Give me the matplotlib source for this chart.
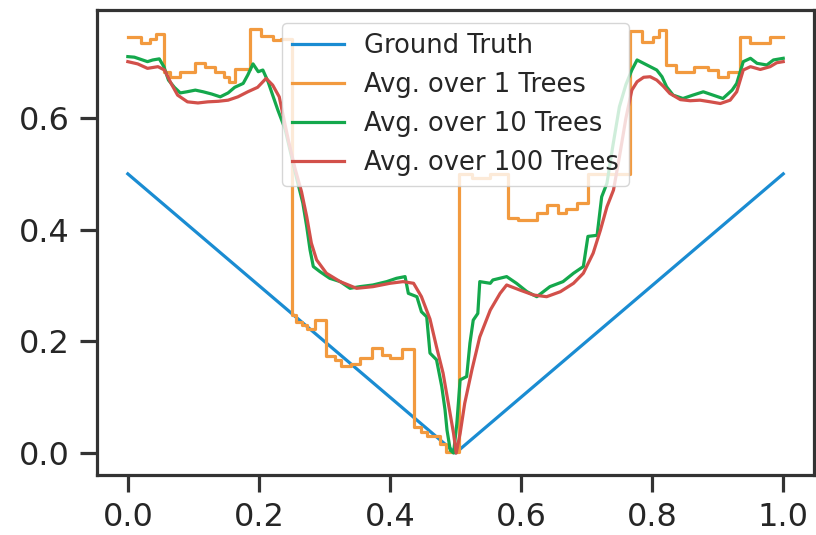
import matplotlib
matplotlib.use('Agg')
import matplotlib.pyplot as plt
import numpy as np

# ground truth |x - 0.5|
truth_x = [0.0, 0.5, 1.0]
truth_y = [0.5, 0.0, 0.5]

# single tree: step starts and values
one_tree_x = [0.0, 0.020, 0.034, 0.043, 0.055, 0.065, 0.079, 0.102, 0.118, 0.133,
              0.146, 0.155, 0.164, 0.187, 0.203, 0.221, 0.234, 0.250, 0.257, 0.265,
              0.273, 0.286, 0.303, 0.316, 0.325, 0.340, 0.355, 0.373, 0.388, 0.400,
              0.418, 0.437, 0.448, 0.456, 0.476, 0.486, 0.505, 0.525, 0.553, 0.580,
              0.595, 0.625, 0.640, 0.656, 0.668, 0.686, 0.702, 0.766, 0.784, 0.802,
              0.811, 0.821, 0.836, 0.864, 0.885, 0.900, 0.915, 0.934, 0.950, 0.980,
              1.0]
one_tree_y = [0.746, 0.735, 0.741, 0.750, 0.683, 0.673, 0.683, 0.699, 0.692, 0.683,
              0.673, 0.665, 0.688, 0.759, 0.747, 0.739, 0.742, 0.248, 0.235, 0.229,
              0.222, 0.239, 0.174, 0.167, 0.156, 0.159, 0.171, 0.188, 0.176, 0.170,
              0.186, 0.047, 0.038, 0.030, 0.017, 0.002, 0.500, 0.493, 0.500, 0.421,
              0.417, 0.430, 0.444, 0.430, 0.437, 0.447, 0.500, 0.755, 0.737, 0.746,
              0.758, 0.695, 0.683, 0.692, 0.686, 0.673, 0.683, 0.746, 0.734, 0.746,
              0.746]

# 10 trees
ten_x = [0.0, 0.010, 0.020, 0.030, 0.038, 0.048, 0.055, 0.062, 0.071, 0.080,
         0.090, 0.103, 0.115, 0.128, 0.141, 0.153, 0.163, 0.176, 0.183, 0.191,
         0.199, 0.206, 0.214, 0.221, 0.229, 0.240, 0.250, 0.258, 0.267, 0.273,
         0.278, 0.283, 0.293, 0.308, 0.324, 0.339, 0.354, 0.374, 0.395, 0.410,
         0.423, 0.428, 0.441, 0.448, 0.456, 0.461, 0.471, 0.479, 0.484, 0.487,
         0.492, 0.497, 0.502, 0.507, 0.517, 0.522, 0.527, 0.534, 0.537, 0.553,
         0.557, 0.578, 0.593, 0.609, 0.624, 0.644, 0.664, 0.680, 0.695, 0.702,
         0.716, 0.723, 0.731, 0.740, 0.750, 0.760, 0.769, 0.777, 0.787, 0.797,
         0.807, 0.815, 0.822, 0.832, 0.847, 0.862, 0.878, 0.893, 0.908, 0.922,
         0.929, 0.939, 0.950, 0.960, 0.975, 0.985, 1.0]
ten_y = [0.710, 0.709, 0.705, 0.701, 0.704, 0.706, 0.692, 0.668, 0.655, 0.645,
         0.647, 0.650, 0.647, 0.643, 0.638, 0.645, 0.655, 0.662, 0.677, 0.697,
         0.683, 0.686, 0.665, 0.641, 0.614, 0.580, 0.530, 0.490, 0.448, 0.405,
         0.364, 0.334, 0.325, 0.313, 0.307, 0.295, 0.298, 0.301, 0.307, 0.313,
         0.316, 0.286, 0.280, 0.253, 0.244, 0.179, 0.167, 0.119, 0.077, 0.041,
         0.005, 0.000, 0.053, 0.131, 0.137, 0.197, 0.238, 0.250, 0.307, 0.304,
         0.310, 0.316, 0.304, 0.289, 0.280, 0.298, 0.307, 0.322, 0.334, 0.388,
         0.390, 0.459, 0.483, 0.550, 0.620, 0.660, 0.686, 0.704, 0.698, 0.692,
         0.686, 0.674, 0.656, 0.641, 0.635, 0.641, 0.647, 0.641, 0.635, 0.650,
         0.662, 0.701, 0.707, 0.698, 0.695, 0.704, 0.707]

# 100 trees
hundred_x = [0.0, 0.015, 0.030, 0.046, 0.056, 0.066, 0.076, 0.091, 0.107, 0.122,
             0.138, 0.153, 0.168, 0.183, 0.198, 0.211, 0.221, 0.231, 0.245, 0.255,
             0.265, 0.273, 0.280, 0.288, 0.303, 0.324, 0.349, 0.374, 0.400, 0.420,
             0.436, 0.448, 0.461, 0.471, 0.481, 0.489, 0.497, 0.501, 0.507, 0.514,
             0.525, 0.537, 0.553, 0.568, 0.578, 0.598, 0.619, 0.639, 0.660, 0.680,
             0.695, 0.710, 0.721, 0.731, 0.741, 0.750, 0.760, 0.769, 0.777, 0.787,
             0.797, 0.807, 0.817, 0.827, 0.843, 0.858, 0.873, 0.889, 0.904, 0.919,
             0.929, 0.939, 0.950, 0.965, 0.980, 0.990, 1.0]
hundred_y = [0.701, 0.697, 0.689, 0.692, 0.686, 0.662, 0.641, 0.629, 0.627, 0.629,
             0.630, 0.632, 0.638, 0.647, 0.655, 0.671, 0.659, 0.638, 0.560, 0.510,
             0.468, 0.423, 0.376, 0.346, 0.322, 0.307, 0.295, 0.298, 0.304, 0.307,
             0.304, 0.280, 0.240, 0.190, 0.143, 0.089, 0.035, 0.000, 0.035, 0.089,
             0.149, 0.208, 0.256, 0.286, 0.301, 0.292, 0.283, 0.280, 0.289, 0.304,
             0.322, 0.358, 0.399, 0.441, 0.471, 0.530, 0.600, 0.650, 0.665, 0.673,
             0.674, 0.668, 0.657, 0.644, 0.633, 0.631, 0.632, 0.629, 0.626, 0.632,
             0.647, 0.686, 0.692, 0.687, 0.692, 0.699, 0.701]

labels = ['Ground Truth', 'Avg. over 1 Trees', 'Avg. over 10 Trees', 'Avg. over 100 Trees']
colors = ['#1a8cd2', '#f29a3f', '#14a84c', '#d2504a']

text_color = '#262626'
spine_color = '#333333'

fig = plt.figure(figsize=(8.16, 5.35), dpi=100)
ax = fig.add_axes([0.1189, 0.1121, 0.8787, 0.8692])

lw = 2.3
ax.plot(truth_x, truth_y, color=colors[0], linewidth=lw, label=labels[0])
ax.plot(one_tree_x, one_tree_y, color=colors[1], linewidth=lw, drawstyle='steps-post', label=labels[1])
ax.plot(ten_x, ten_y, color=colors[2], linewidth=lw, label=labels[2])
ax.plot(hundred_x, hundred_y, color=colors[3], linewidth=lw, label=labels[3])

ax.set_xlim(-0.047, 1.047)
ax.set_ylim(-0.0394, 0.7935)
ax.set_xticks([0.0, 0.2, 0.4, 0.6, 0.8, 1.0])
ax.set_yticks([0.0, 0.2, 0.4, 0.6])
ax.xaxis.set_major_formatter(matplotlib.ticker.FormatStrFormatter('%.1f'))
ax.yaxis.set_major_formatter(matplotlib.ticker.FormatStrFormatter('%.1f'))

for side in ax.spines.values():
    side.set_color(spine_color)
    side.set_linewidth(2.3)
ax.tick_params(axis='both', length=12.5, width=2.3, color=spine_color,
               labelsize=23, labelcolor=text_color, pad=7)

leg = ax.legend(loc='upper center', fontsize=18.5, framealpha=0.8, edgecolor='#cccccc',
                fancybox=True)
for t in leg.get_texts():
    t.set_color(text_color)

plt.savefig('out.png', dpi=100)
